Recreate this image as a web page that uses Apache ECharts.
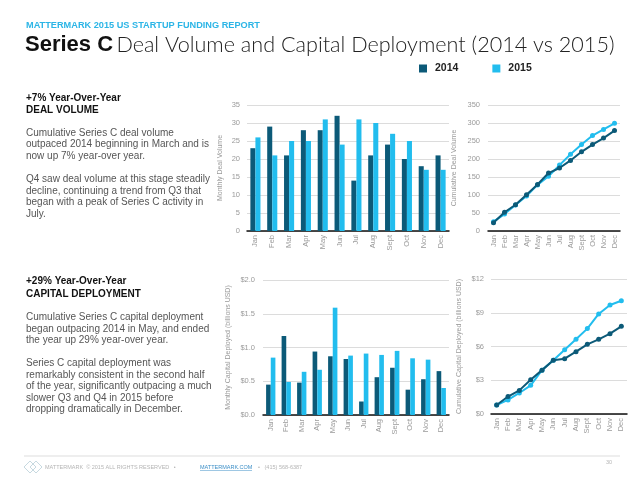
<!DOCTYPE html>
<html>
<head>
<meta charset="utf-8">
<script src="https://cdn.jsdelivr.net/npm/echarts@6/dist/echarts.min.js"></script>
<style>
html,body{margin:0;padding:0;background:#fff;}
#c{width:638px;height:479px;}
</style>
</head>
<body>
<div id="c"></div>
<script>
const months = ['Jan','Feb','Mar','Apr','May','Jun','Jul','Aug','Sept','Oct','Nov','Dec'];
const dealMonthly2014 = [23,29,21,28,28,32,14,21,24,20,18,21];
const dealMonthly2015 = [26,21,25,25,31,24,31,30,27,25,17,17];
const dealCum2014 = [23,52,73,101,129,161,175,196,220,240,258,279];
const dealCum2015 = [26,47,72,97,128,152,183,213,240,265,282,299];
const capMonthly2014 = [0.45,1.17,0.48,0.94,0.87,0.83,0.20,0.56,0.70,0.375,0.53,0.65];
const capMonthly2015 = [0.85,0.49,0.64,0.67,1.59,0.88,0.91,0.89,0.95,0.84,0.82,0.40];
const capCum2014 = [0.8,1.55,2.1,3.05,3.9,4.77,4.92,5.54,6.19,6.64,7.14,7.79];
const capCum2015 = [0.8,1.25,1.87,2.55,3.9,4.77,5.72,6.64,7.59,8.89,9.69,10.07];
const seriesNames = ['2014','2015'];

const DARK = '#0c5a78';
const LIGHT = '#22bdee';
const FONT = '"Liberation Sans", Arial, sans-serif';
const AXISGREY = '#9a9a9a';

function catAxis(gi){
  return {
    type:'category', gridIndex:gi, data:months, boundaryGap:true,
    axisLine:{show:true, lineStyle:{color:'#111', width:1.5}},
    axisTick:{show:false},
    axisLabel:{rotate:90, color:AXISGREY, fontSize:7.5, fontFamily:FONT, margin:4, interval:0}
  };
}
function valAxis(gi, max, interval, name, gap, fmt, margin){
  return {
    type:'value', gridIndex:gi, min:0, max:max, interval:interval,
    name:name, nameLocation:'middle', nameRotate:90, nameGap:gap,
    nameTextStyle:{color:AXISGREY, fontSize:7, fontFamily:FONT},
    axisLine:{show:false}, axisTick:{show:false},
    splitLine:{lineStyle:{color:'#dcdcdc', width:1}},
    axisLabel:{color:AXISGREY, fontSize:7.5, fontFamily:FONT, margin:margin, formatter:fmt}
  };
}
function bar(name, gi, data, color){
  return {name:name, type:'bar', xAxisIndex:gi, yAxisIndex:gi, data:data,
    itemStyle:{color:color}, barGap:'0%', barCategoryGap:'40%', emphasis:{disabled:true}};
}
function line(name, gi, data, color, z){
  return {name:name, type:'line', xAxisIndex:gi, yAxisIndex:gi, data:data, z:z,
    lineStyle:{color:color, width:2}, itemStyle:{color:color},
    symbol:'circle', symbolSize:5, showSymbol:true, emphasis:{disabled:true}};
}

const body1 = 'Cumulative Series C deal volume\noutpaced 2014 beginning in March and is\nnow up 7% year-over year.\n\nQ4 saw deal volume at this stage steadily\ndecline, continuing a trend from Q3 that\nbegan with a peak of Series C activity in\nJuly.';
const body2 = 'Cumulative Series C capital deployment\nbegan outpacing 2014 in May, and ended\nthe year up 29% year-over year.\n\nSeries C capital deployment was\nremarkably consistent in the second half\nof the year, significantly outpacing a much\nslower Q3 and Q4 in 2015 before\ndropping dramatically in December.';

const chart = echarts.init(document.getElementById('c'), null, {renderer:'canvas'});
chart.setOption({
  animation:false,
  backgroundColor:'#fff',
  legend:{
    data:seriesNames, left:414, top:58, icon:'rect', itemWidth:8, itemHeight:8, itemGap:34,
    textStyle:{color:'#222', fontSize:10.5, fontFamily:FONT, fontWeight:'bold', padding:[0,0,0,3]},
    selectedMode:false
  },
  grid:[
    {left:247, top:105, width:202, height:126},
    {left:488, top:105, width:132, height:126},
    {left:263, top:280, width:186, height:135},
    {left:491, top:279, width:136, height:135}
  ],
  xAxis:[catAxis(0), catAxis(1), catAxis(2), catAxis(3)],
  yAxis:[
    valAxis(0, 35, 5, 'Monthly Deal Volume', 23, null, 7),
    valAxis(1, 350, 50, 'Cumulative Deal Volume', 30, null, 8),
    valAxis(2, 2, 0.5, 'Monthly Capital Deployed (billions USD)', 31, v => '$' + v.toFixed(1), 8),
    valAxis(3, 12, 3, 'Cumulative Capital Deployed (billions USD)', 28, v => '$' + v, 7)
  ],
  series:[
    bar(seriesNames[0], 0, dealMonthly2014, DARK),
    bar(seriesNames[1], 0, dealMonthly2015, LIGHT),
    line(seriesNames[1], 1, dealCum2015, LIGHT, 2),
    line(seriesNames[0], 1, dealCum2014, DARK, 3),
    bar(seriesNames[0], 2, capMonthly2014, DARK),
    bar(seriesNames[1], 2, capMonthly2015, LIGHT),
    line(seriesNames[1], 3, capCum2015, LIGHT, 2),
    line(seriesNames[0], 3, capCum2014, DARK, 3)
  ],
  graphic:[
    {type:'text', x:26, y:25, style:{text:'MATTERMARK 2015 US STARTUP FUNDING REPORT', fill:'#2cb5e6',
      font:'bold 9.2px ' + FONT, verticalAlign:'middle'}},
    {type:'text', x:25, y:45, style:{
      text:'{a|Series C} {b|Deal Volume and Capital Deployment (2014 vs 2015)}',
      verticalAlign:'middle',
      rich:{
        a:{fontFamily:FONT, fontWeight:'bold', fontSize:22, fill:'#111', color:'#111'},
        b:{fontFamily:'"Lato", ' + FONT, fontWeight:300, fontSize:21.6, fill:'#222', color:'#222'}
      }}},
    {type:'text', x:26, y:92, style:{text:'+7% Year-Over-Year\nDEAL VOLUME', fill:'#111',
      font:'bold 10px ' + FONT, lineHeight:12, verticalAlign:'top'}},
    {type:'text', x:26, y:127, style:{text:body1, fill:'#555', font:'10px ' + FONT, lineHeight:11.6, verticalAlign:'top'}},
    {type:'text', x:26, y:275, style:{text:'+29% Year-Over-Year\nCAPITAL DEPLOYMENT', fill:'#111',
      font:'bold 10px ' + FONT, lineHeight:12.5, verticalAlign:'top'}},
    {type:'text', x:26, y:311.5, style:{text:body2, fill:'#555', font:'10px ' + FONT, lineHeight:11.5, verticalAlign:'top'}},
    {type:'line', shape:{x1:24, y1:456, x2:620, y2:456}, style:{stroke:'#dddddd', lineWidth:1}},
    {type:'polygon', shape:{points:[[24,467],[30,461],[36,467],[30,473]]}, style:{fill:'none', stroke:'#b9cfd8', lineWidth:0.8}},
    {type:'polygon', shape:{points:[[30,467],[36,461],[42,467],[36,473]]}, style:{fill:'none', stroke:'#b9cfd8', lineWidth:0.8}},
    {type:'text', x:45, y:467, style:{text:'MATTERMARK  © 2015 ALL RIGHTS RESERVED   •', fill:'#b5b5b5', font:'5.5px ' + FONT, verticalAlign:'middle'}},
    {type:'text', x:200, y:467, style:{text:'MATTERMARK.COM', fill:'#3d8fc7', font:'5.5px ' + FONT, verticalAlign:'middle'}},
    {type:'line', shape:{x1:200, y1:470.5, x2:252, y2:470.5}, style:{stroke:'#3d8fc7', lineWidth:0.5}},
    {type:'text', x:258, y:467, style:{text:'•   (415) 568-6387', fill:'#b5b5b5', font:'5.5px ' + FONT, verticalAlign:'middle'}},
    {type:'text', x:606, y:462, style:{text:'30', fill:'#b5b5b5', font:'5.5px ' + FONT, verticalAlign:'middle'}}
  ]
});
</script>
</body>
</html>
